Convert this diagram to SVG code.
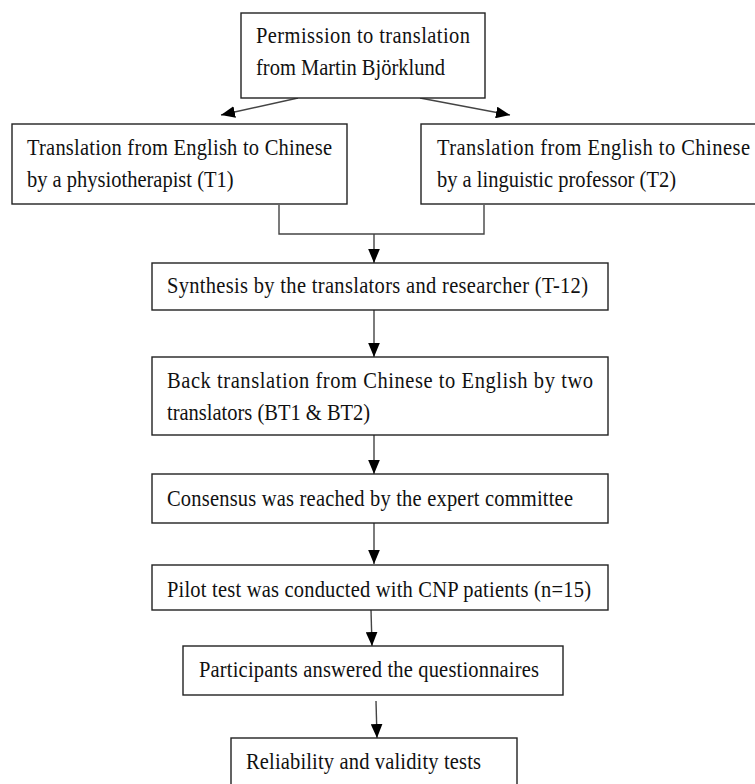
<svg xmlns="http://www.w3.org/2000/svg" width="755" height="784" viewBox="0 0 755 784">
<defs>
<style>
.box{fill:#fff;stroke:#222;stroke-width:1.4}
.t{font-family:"Liberation Serif","Times New Roman",serif;font-size:20.5px;fill:#111}
.c{fill:none;stroke:#444;stroke-width:1.4}
</style>
<marker id="ah" markerUnits="userSpaceOnUse" markerWidth="14" markerHeight="12" viewBox="0 0 12 10" refX="12" refY="5" orient="auto">
<path d="M0,0 L12,5 L0,10 Z" fill="#000"/>
</marker>
</defs>
<rect width="755" height="784" fill="#fff"/>
<g id="connectors">
<line class="c" x1="298" y1="98" x2="221" y2="115" marker-end="url(#ah)"/>
<line class="c" x1="420" y1="98" x2="510" y2="115" marker-end="url(#ah)"/>
<polyline class="c" points="279,205 279,234 484,234 484,205"/>
<line class="c" x1="374" y1="234" x2="374" y2="263" marker-end="url(#ah)"/>
<line class="c" x1="374" y1="310" x2="374" y2="357" marker-end="url(#ah)"/>
<line class="c" x1="374" y1="435" x2="374" y2="474" marker-end="url(#ah)"/>
<line class="c" x1="374" y1="523" x2="374" y2="564" marker-end="url(#ah)"/>
<line class="c" x1="371" y1="610" x2="372" y2="646" marker-end="url(#ah)"/>
<line class="c" x1="376" y1="701" x2="377" y2="738" marker-end="url(#ah)"/>
</g>
<g id="n_permission">
<rect class="box" x="241" y="13" width="244" height="85"/>
<text class="t" transform="translate(256,43) scale(1,1.14)" textLength="214" lengthAdjust="spacing">Permission to translation</text>
<text class="t" transform="translate(256,75) scale(1,1.14)">from Martin Björklund</text>
</g>
<g id="n_t1">
<rect class="box" x="12" y="124" width="335" height="80"/>
<text class="t" transform="translate(27,155) scale(1,1.14)" textLength="305" lengthAdjust="spacing">Translation from English to Chinese</text>
<text class="t" transform="translate(27,187) scale(1,1.14)">by a physiotherapist (T1)</text>
</g>
<g id="n_t2">
<rect class="box" x="421" y="124" width="345" height="80"/>
<text class="t" transform="translate(437,155) scale(1,1.14)" textLength="313" lengthAdjust="spacing">Translation from English to Chinese</text>
<text class="t" transform="translate(437,187) scale(1,1.14)">by a linguistic professor (T2)</text>
</g>
<g id="n_synthesis">
<rect class="box" x="152" y="263" width="456" height="47"/>
<text class="t" transform="translate(167,293) scale(1,1.14)" textLength="421" lengthAdjust="spacing">Synthesis by the translators and researcher (T-12)</text>
</g>
<g id="n_back">
<rect class="box" x="152" y="357" width="456" height="78"/>
<text class="t" transform="translate(167,388) scale(1,1.14)" textLength="426" lengthAdjust="spacing">Back translation from Chinese to English by two</text>
<text class="t" transform="translate(167,420) scale(1,1.14)">translators (BT1 &amp; BT2)</text>
</g>
<g id="n_consensus">
<rect class="box" x="152" y="474" width="456" height="49"/>
<text class="t" transform="translate(167,506) scale(1,1.14)" textLength="406" lengthAdjust="spacing">Consensus was reached by the expert committee</text>
</g>
<g id="n_pilot">
<rect class="box" x="152" y="565" width="456" height="45"/>
<text class="t" transform="translate(167,597) scale(1,1.14)" textLength="424" lengthAdjust="spacing">Pilot test was conducted with CNP patients (n=15)</text>
</g>
<g id="n_participants">
<rect class="box" x="183" y="646" width="380" height="49"/>
<text class="t" transform="translate(199,677) scale(1,1.14)" textLength="340" lengthAdjust="spacing">Participants answered the questionnaires</text>
</g>
<g id="n_reliability">
<rect class="box" x="231" y="738" width="286" height="60"/>
<text class="t" transform="translate(246,769) scale(1,1.14)" textLength="235" lengthAdjust="spacing">Reliability and validity tests</text>
</g>
</svg>
